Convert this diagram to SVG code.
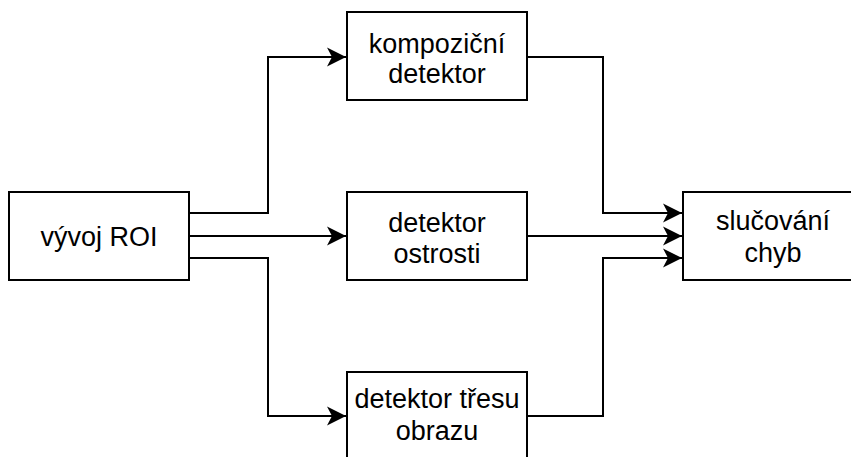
<svg xmlns="http://www.w3.org/2000/svg" width="851" height="457" viewBox="0 0 851 457">
  <style>
    .box { fill: #ffffff; stroke: #000000; stroke-width: 2; }
    .lbl { font-family: "Liberation Sans", Arial, Helvetica, sans-serif; font-size: 27px; fill: #000000; text-anchor: middle; }
    .edge { fill: none; stroke: #000000; stroke-width: 2; marker-end: url(#arrow); }
  </style>
  <defs>
    <marker id="arrow" markerUnits="userSpaceOnUse" viewBox="0 0 20 20" refX="19" refY="10" markerWidth="20" markerHeight="20" orient="auto">
      <path d="M19,10 L0,0.5 L5,10 L0,19.5 Z" fill="#000000"/>
    </marker>
  </defs>

  <rect width="851" height="457" fill="#ffffff"/>

  <g id="connectors">
    <path class="edge" d="M190,213 H268 V57 H346"/>
    <path class="edge" d="M190,236 H346"/>
    <path class="edge" d="M190,258 H268 V416 H346"/>
    <path class="edge" d="M527,57 H603 V213 H682"/>
    <path class="edge" d="M527,236 H682"/>
    <path class="edge" d="M527,416 H603 V258 H682"/>
  </g>

  <g id="vyvoj-roi">
    <rect class="box" x="9" y="192" width="180" height="88"/>
    <text class="lbl" x="99" y="246">vývoj ROI</text>
  </g>

  <g id="kompozicni-detektor">
    <rect class="box" x="347" y="12" width="180" height="88"/>
    <text class="lbl" x="437" y="53">kompoziční</text>
    <text class="lbl" x="437" y="83">detektor</text>
  </g>

  <g id="detektor-ostrosti">
    <rect class="box" x="347" y="192" width="180" height="88"/>
    <text class="lbl" x="437" y="232">detektor</text>
    <text class="lbl" x="437" y="263">ostrosti</text>
  </g>

  <g id="detektor-tresu">
    <rect class="box" x="347" y="372" width="180" height="88"/>
    <text class="lbl" x="437" y="408">detektor třesu</text>
    <text class="lbl" x="437" y="440">obrazu</text>
  </g>

  <g id="slucovani-chyb">
    <rect class="box" x="683" y="192" width="180" height="88"/>
    <text class="lbl" x="773" y="230">slučování</text>
    <text class="lbl" x="773" y="262">chyb</text>
  </g>
</svg>
